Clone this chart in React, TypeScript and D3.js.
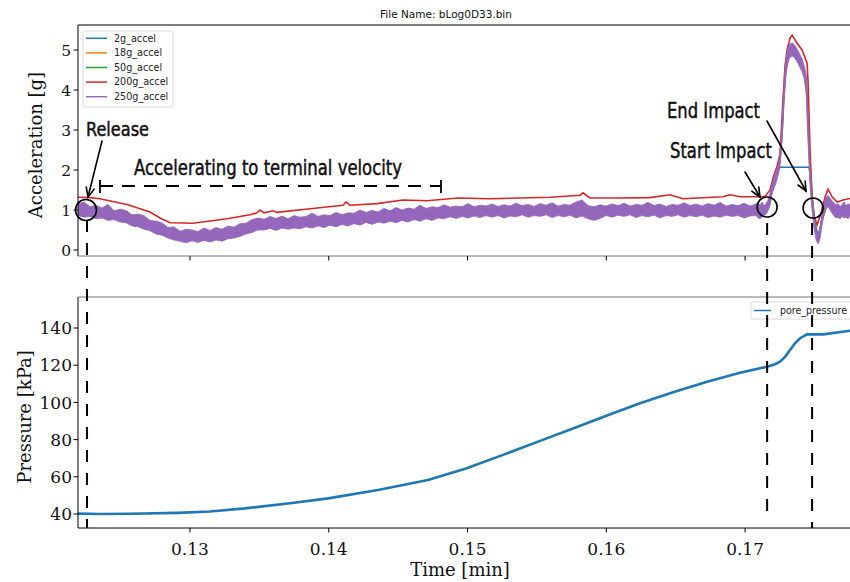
import React from "react";
import * as d3 from "d3";

const W = 850;
const H = 582;

// ---------- tick values ----------
const timeTicks = [0.13, 0.14, 0.15, 0.16, 0.17];
const accelTicks = [0, 1, 2, 3, 4, 5];
const pressureTicks = [40, 60, 80, 100, 120, 140];

const seriesNames = ["2g_accel", "18g_accel", "50g_accel", "200g_accel", "250g_accel"];
const seriesColors = ["#1f77b4", "#ff7f0e", "#2ca02c", "#d62728", "#9467bd"];

// ---------- low-range accelerometers (time in min, accel in g) ----------
const midTime = [0.12193, 0.12546, 0.12856, 0.13072, 0.13396, 0.13649, 0.14225, 0.14946, 0.15667, 0.17108, 0.17151, 0.1718, 0.17209, 0.17238, 0.17252, 0.17267, 0.17281, 0.17295, 0.17324, 0.17353, 0.17396, 0.1744, 0.17454, 0.17461, 0.17468, 0.17483, 0.17497, 0.17526, 0.17555, 0.17598, 0.17656, 0.17771];
const accel2g = [1.0, 0.8, 0.42, 0.37, 0.55, 0.68, 0.82, 0.96, 1.0, 1.0, 1.05, 1.3, 1.68, 2.0, 2.07, 2.07, 2.07, 2.07, 2.07, 2.07, 2.07, 2.07, 2.07, 2.07, 1.9, 1.2, 0.75, 0.28, 0.78, 1.22, 0.98, 1.0];
const accel18g = [1.0, 0.8, 0.42, 0.37, 0.55, 0.68, 0.82, 0.96, 1.0, 1.0, 1.05, 1.3, 1.68, 2.0, 2.3, 3.0, 4.0, 4.6, 5.0, 5.0, 4.72, 4.2, 3.1, 2.5, 1.9, 1.2, 0.75, 0.28, 0.78, 1.22, 0.98, 1.0];
const accel50g = [1.0, 0.79, 0.43, 0.38, 0.56, 0.69, 0.83, 0.97, 1.0, 1.0, 1.04, 1.28, 1.66, 1.98, 2.25, 2.9, 3.9, 4.55, 4.95, 4.98, 4.74, 4.3, 3.4, 2.8, 2.2, 1.4, 0.9, 0.3, 0.75, 1.2, 0.97, 1.0];

// ---------- 200g accelerometer ----------
const redTime = [0.12193, 0.12279, 0.12351, 0.12546, 0.12712, 0.12784, 0.12856, 0.13022, 0.13267, 0.13432, 0.13483, 0.13505, 0.13533, 0.13598, 0.13627, 0.13865, 0.14103, 0.14124, 0.14153, 0.14348, 0.14535, 0.14708, 0.14932, 0.15162, 0.15378, 0.15595, 0.15811, 0.15832, 0.15883, 0.16099, 0.16315, 0.16459, 0.16553, 0.16841, 0.16892, 0.16964, 0.17108, 0.17144, 0.1718, 0.17202, 0.17231, 0.17252, 0.17274, 0.17288, 0.17303, 0.17324, 0.17339, 0.17375, 0.17411, 0.17447, 0.17454, 0.17468, 0.17483, 0.17497, 0.17519, 0.17541, 0.17577, 0.17598, 0.17627, 0.17663, 0.17706, 0.17771];
const accel200g = [1.32, 1.31, 1.28, 1.14, 0.95, 0.8, 0.68, 0.67, 0.78, 0.88, 0.93, 1.0, 0.93, 0.98, 0.94, 1.03, 1.12, 1.2, 1.12, 1.16, 1.25, 1.23, 1.3, 1.28, 1.3, 1.32, 1.37, 1.43, 1.3, 1.3, 1.31, 1.38, 1.28, 1.33, 1.38, 1.33, 1.33, 1.34, 1.5, 1.8, 2.1, 2.4, 3.8, 4.6, 5.0, 5.3, 5.37, 5.17, 5.0, 4.67, 4.2, 2.5, 1.3, 0.85, 0.63, 0.85, 1.33, 1.52, 1.33, 1.2, 1.25, 1.3];

// ---------- 250g accelerometer (noisy: upper / lower envelope) ----------
const bandTime = [
  ...d3.range(114).map((i) => 0.12193 + i * 0.00043243),
  ...d3.range(48).map((i) => 0.170937 + i * 0.00014414),
];
const accel250High = [
  1.15, 1.2, 1.08, 1.12, 1.05, 1.14, 0.98, 1.02, 0.99, 0.88, 0.9, 0.86, 0.74, 0.72, 0.68, 0.56, 0.58, 0.47, 0.52, 0.5,
  0.46, 0.55, 0.49, 0.56, 0.52, 0.6, 0.57, 0.66, 0.67, 0.76, 0.8, 0.77, 0.84, 0.79, 0.85, 0.78, 0.86, 0.82, 0.84, 0.92,
  0.84, 0.88, 0.86, 0.94, 0.88, 0.93, 0.92, 1.0, 0.94, 0.99, 0.95, 1.04, 0.98, 1.06, 1.0, 1.05, 1.02, 1.12, 1.04, 1.08,
  1.06, 1.13, 1.07, 1.1, 1.08, 1.16, 1.08, 1.12, 1.1, 1.15, 1.09, 1.13, 1.1, 1.17, 1.11, 1.14, 1.09, 1.16, 1.12, 1.18,
  1.1, 1.14, 1.12, 1.2, 1.25, 1.11, 1.08, 1.13, 1.1, 1.15, 1.11, 1.17, 1.1, 1.14, 1.12, 1.19, 1.11, 1.15, 1.09, 1.14,
  1.12, 1.18, 1.11, 1.15, 1.1, 1.16, 1.12, 1.19, 1.1, 1.14, 1.11, 1.17, 1.1, 1.15,
  1.18, 1.12, 1.2, 1.1, 1.16, 1.25, 1.42, 1.68, 1.8, 1.95, 2.12, 2.45, 3.2, 4.2, 4.8, 5.05, 5.15, 5.18, 5.14, 5.06,
  4.98, 4.88, 4.78, 4.62, 4.4, 3.5, 2.1, 1.35, 0.9, 0.55, 0.42, 0.56, 0.92, 1.18, 1.32, 1.36, 1.3, 1.22, 1.18, 1.12,
  1.16, 1.08, 1.14, 1.2, 1.1, 1.16, 1.12, 1.15,
];
const accel250Low = [
  0.86, 0.82, 0.84, 0.78, 0.8, 0.74, 0.76, 0.7, 0.68, 0.6, 0.58, 0.52, 0.48, 0.4, 0.37, 0.3, 0.25, 0.22, 0.18, 0.23,
  0.19, 0.24, 0.2, 0.25, 0.22, 0.28, 0.3, 0.34, 0.4, 0.44, 0.5, 0.5, 0.54, 0.49, 0.55, 0.52, 0.55, 0.53, 0.58, 0.55,
  0.6, 0.56, 0.62, 0.58, 0.64, 0.6, 0.66, 0.62, 0.69, 0.64, 0.7, 0.67, 0.72, 0.68, 0.74, 0.7, 0.76, 0.72, 0.78, 0.74,
  0.8, 0.78, 0.83, 0.79, 0.84, 0.8, 0.85, 0.81, 0.86, 0.82, 0.86, 0.8, 0.85, 0.83, 0.88, 0.82, 0.86, 0.84, 0.88, 0.81,
  0.86, 0.83, 0.87, 0.8, 0.85, 0.78, 0.74, 0.79, 0.86, 0.82, 0.87, 0.84, 0.88, 0.81, 0.86, 0.83, 0.87, 0.8, 0.86, 0.84,
  0.88, 0.82, 0.86, 0.83, 0.87, 0.81, 0.85, 0.82, 0.87, 0.84, 0.86, 0.8, 0.85, 0.86,
  0.8, 0.78, 0.83, 0.86, 0.9, 0.98, 1.12, 1.4, 1.55, 1.68, 1.86, 2.1, 2.7, 3.7, 4.4, 4.7, 4.82, 4.85, 4.82, 4.75,
  4.66, 4.56, 4.46, 4.3, 3.95, 2.7, 1.6, 1.0, 0.55, 0.25, 0.15, 0.28, 0.62, 0.9, 1.05, 1.08, 1.0, 0.92, 0.85, 0.8,
  0.82, 0.78, 0.84, 0.8, 0.82, 0.78, 0.85, 0.82,
];

// ---------- pore pressure (kPa) ----------
const pressureTime = [0.12193, 0.12351, 0.12568, 0.12914, 0.13144, 0.13396, 0.13721, 0.13995, 0.14355, 0.14715, 0.14989, 0.15285, 0.15523, 0.1576, 0.16005, 0.16243, 0.16481, 0.16726, 0.16964, 0.17159, 0.17216, 0.17252, 0.17288, 0.17324, 0.1736, 0.17396, 0.17447, 0.17562, 0.17757, 0.178];
const porePressure = [40.2, 40.0, 40.1, 40.6, 41.3, 43.0, 45.8, 48.4, 52.9, 58.3, 64.5, 72.6, 79.3, 86.0, 93.0, 99.5, 105.5, 111.1, 116.0, 119.2, 120.5, 121.9, 124.5, 128.2, 131.8, 134.5, 136.6, 136.6, 138.5, 138.7];

// ---------- annotation times ----------
const releaseTime = 0.12258;
const startImpactTime = 0.17159;
const endImpactTime = 0.17483;

// ---------- layout ----------
const L = 78;
const R = 854;
const topT = 25;
const topB = 256;
const botT = 297;
const botB = 528;

const serif = "DejaVu Serif, serif";
const sans = "DejaVu Sans, sans-serif";
const narrow = "Liberation Sans Narrow, DejaVu Sans Condensed, sans-serif";

function Arrow({ x1, y1, x2, y2 }: { x1: number; y1: number; x2: number; y2: number }) {
  const a = Math.atan2(y2 - y1, x2 - x1);
  const hl = 10;
  const ha = 0.42;
  const p1 = [x2 - hl * Math.cos(a - ha), y2 - hl * Math.sin(a - ha)];
  const p2 = [x2 - hl * Math.cos(a + ha), y2 - hl * Math.sin(a + ha)];
  return (
    <g stroke="#000" strokeWidth={1.6} fill="none" strokeLinecap="round">
      <line x1={x1} y1={y1} x2={x2} y2={y2} />
      <polyline points={`${p1[0]},${p1[1]} ${x2},${y2} ${p2[0]},${p2[1]}`} />
    </g>
  );
}

export default function App() {
  const x = d3.scaleLinear().domain([0.12193, 0.17785]).range([L, R]);
  const yA = d3.scaleLinear().domain([-0.15, 5.625]).range([topB, topT]);
  const yP = d3.scaleLinear().domain([32.47, 156.67]).range([botB, botT]);

  const lineA = d3
    .line<[number, number]>()
    .x((d) => x(d[0]))
    .y((d) => yA(d[1]));
  const zip = (t: number[], v: number[]) => t.map((tt, i) => [tt, v[i]] as [number, number]);

  const band = d3
    .area<number>()
    .x((i) => x(bandTime[i]))
    .y0((i) => yA(accel250Low[i]))
    .y1((i) => yA(accel250High[i]));

  const lineP = d3
    .line<[number, number]>()
    .x((d) => x(d[0]))
    .y((d) => yP(d[1]));

  const xr = x(releaseTime);
  const xs = x(startImpactTime);
  const xe = x(endImpactTime);
  const yOne = yA(1);

  return (
    <div style={{ position: "fixed", left: 0, top: 0, width: W, height: H, background: "#fff" }}>
      <svg width={W} height={H} viewBox={`0 0 ${W} ${H}`} style={{ display: "block" }}>
        <defs>
          <clipPath id="clipTop">
            <rect x={L} y={topT} width={R - L} height={topB - topT} />
          </clipPath>
          <clipPath id="clipBot">
            <rect x={L} y={botT} width={R - L} height={botB - botT} />
          </clipPath>
        </defs>

        {/* title */}
        <text x={446} y={18} fontFamily={sans} fontSize={10.5} textAnchor="middle" fill="#111">
          File Name: bLog0D33.bin
        </text>

        {/* ---------- top panel ---------- */}
        <g clipPath="url(#clipTop)">
          <path d={lineA(zip(midTime, accel2g)) || ""} fill="none" stroke={seriesColors[0]} strokeWidth={1.5} />
          <path d={lineA(zip(midTime, accel18g)) || ""} fill="none" stroke={seriesColors[1]} strokeWidth={1.5} />
          <path d={lineA(zip(midTime, accel50g)) || ""} fill="none" stroke={seriesColors[2]} strokeWidth={1.5} />
          <path d={lineA(zip(redTime, accel200g)) || ""} fill="none" stroke={seriesColors[3]} strokeWidth={1.6} />
          <path d={band(d3.range(bandTime.length)) || ""} fill={seriesColors[4]} stroke={seriesColors[4]} strokeWidth={0.8} />
        </g>
        <line x1={L} y1={topT} x2={W} y2={topT} stroke="#000" strokeWidth={1} />
        <line x1={L} y1={topT} x2={L} y2={topB} stroke="#000" strokeWidth={1} />
        <line x1={L} y1={topB} x2={W} y2={topB} stroke="#777" strokeWidth={1} />
        {accelTicks.map((v) => (
          <g key={"ya" + v}>
            <line x1={L - 4.5} x2={L} y1={yA(v)} y2={yA(v)} stroke="#000" />
            <text x={L - 7} y={yA(v)} dy="0.36em" textAnchor="end" fontFamily={serif} fontSize={15.5} fill="#111">
              {v}
            </text>
          </g>
        ))}
        {timeTicks.map((t) => (
          <line key={"xa" + t} x1={x(t)} x2={x(t)} y1={topB} y2={topB + 4.5} stroke="#000" />
        ))}
        <text
          transform={`translate(42,145) rotate(-90)`}
          textAnchor="middle"
          fontFamily={serif}
          fontSize={18}
          fill="#111"
        >
          Acceleration [g]
        </text>

        {/* top legend */}
        <rect x={83} y={31} width={90} height={76} rx={2} fill="#fff" fillOpacity={0.85} stroke="#d0d0d0" strokeWidth={0.8} />
        {seriesNames.map((n, i) => (
          <g key={n}>
            <line x1={86} x2={107} y1={38.3 + i * 14.6} y2={38.3 + i * 14.6} stroke={seriesColors[i]} strokeWidth={1.5} />
            <text x={114} y={38.3 + i * 14.6} dy="0.35em" fontFamily={sans} fontSize={9.6} fill="#222">
              {n}
            </text>
          </g>
        ))}

        {/* ---------- bottom panel ---------- */}
        <g clipPath="url(#clipBot)">
          <path d={lineP(zip(pressureTime, porePressure)) || ""} fill="none" stroke="#1f77b4" strokeWidth={2.6} />
        </g>
        <line x1={L} y1={botT} x2={W} y2={botT} stroke="#777" strokeWidth={1} />
        <line x1={L} y1={botT} x2={L} y2={botB} stroke="#000" strokeWidth={1} />
        <line x1={L} y1={botB} x2={W} y2={botB} stroke="#000" strokeWidth={1} />
        {pressureTicks.map((v) => (
          <g key={"yp" + v}>
            <line x1={L - 4.5} x2={L} y1={yP(v)} y2={yP(v)} stroke="#000" />
            <text x={L - 6} y={yP(v)} dy="0.36em" textAnchor="end" fontFamily={serif} fontSize={17} fill="#111">
              {v}
            </text>
          </g>
        ))}
        {timeTicks.map((t) => (
          <g key={"xp" + t}>
            <line x1={x(t)} x2={x(t)} y1={botB} y2={botB + 4.5} stroke="#000" />
            <text x={x(t)} y={555} textAnchor="middle" fontFamily={serif} fontSize={17} fill="#111">
              {t.toFixed(2)}
            </text>
          </g>
        ))}
        <text x={460} y={576} textAnchor="middle" fontFamily={serif} fontSize={18} fill="#111">
          Time [min]
        </text>
        <text
          transform={`translate(31,417) rotate(-90)`}
          textAnchor="middle"
          fontFamily={serif}
          fontSize={18}
          fill="#111"
        >
          Pressure [kPa]
        </text>

        {/* bottom legend */}
        <rect x={751} y={302} width={120} height={17} rx={2} fill="#fff" fillOpacity={0.85} stroke="#d0d0d0" strokeWidth={0.8} />
        <line x1={754} x2={771} y1={310.5} y2={310.5} stroke="#1f77b4" strokeWidth={1.5} />
        <text x={780} y={310.5} dy="0.35em" fontFamily={sans} fontSize={10} fill="#222" textLength={67} lengthAdjust="spacingAndGlyphs">
          pore_pressure
        </text>

        {/* ---------- annotations ---------- */}
        <g stroke="#000" strokeWidth={2} strokeDasharray="12,11" fill="none">
          <line x1={xr} x2={xr} y1={yOne + 10} y2={botB} />
          <line x1={xs} x2={xs} y1={yOne + 13} y2={botB - 10} />
          <line x1={xe} x2={xe} y1={yOne + 13} y2={botB} />
        </g>
        <g stroke="#000" strokeWidth={1.6} fill="none">
          <circle cx={xr - 1} cy={yOne} r={10.5} />
          <circle cx={xs} cy={yOne - 3} r={10} />
          <circle cx={xe + 1} cy={yOne - 2} r={10} />
        </g>
        {/* bracket */}
        <g stroke="#000" strokeWidth={1.8} fill="none">
          <line x1={100} x2={441} y1={186} y2={186} strokeDasharray="13,9" />
          <line x1={100} x2={100} y1={180} y2={193} />
          <line x1={441} x2={441} y1={180} y2={193} />
        </g>
        <Arrow x1={102} y1={141} x2={88} y2={197} />
        <Arrow x1={745} y1={172} x2={760} y2={197} />
        <Arrow x1={767} y1={121} x2={806} y2={191} />

        <g fontFamily={narrow} fill="#111" stroke="#111" strokeWidth={0.45}>
          <text x={86} y={136} fontSize={20} textLength={63} lengthAdjust="spacingAndGlyphs">
            Release
          </text>
          <text x={134} y={175} fontSize={21} textLength={268} lengthAdjust="spacingAndGlyphs">
            Accelerating to terminal velocity
          </text>
          <text x={667} y={118} fontSize={22} textLength={93} lengthAdjust="spacingAndGlyphs">
            End Impact
          </text>
          <text x={670} y={158} fontSize={21} textLength={102} lengthAdjust="spacingAndGlyphs">
            Start Impact
          </text>
        </g>
      </svg>
    </div>
  );
}
